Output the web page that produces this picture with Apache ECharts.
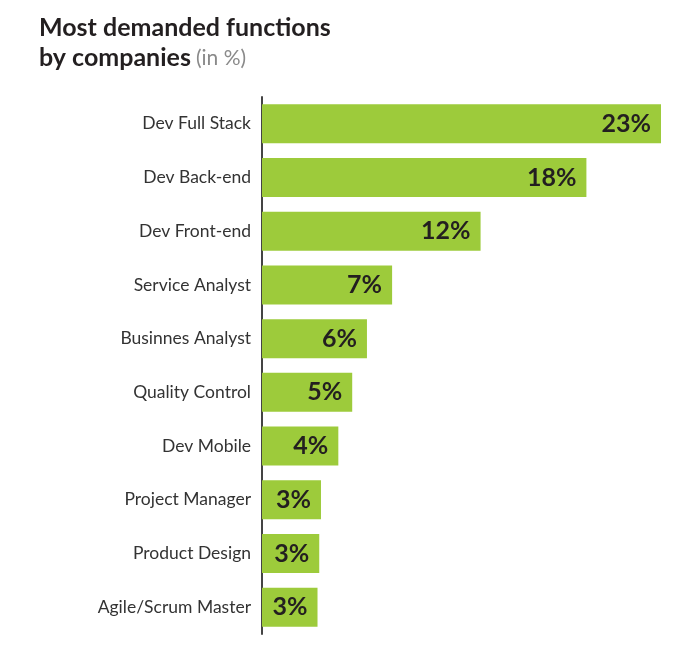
<!DOCTYPE html>
<html>
<head>
<meta charset="utf-8">
<script src="https://cdn.jsdelivr.net/npm/echarts@6/dist/echarts.min.js"></script>
<style>html,body{margin:0;padding:0;background:#fff}#c{width:700px;height:657px}</style>
</head>
<body>
<div id="c"></div>
<script>
const categories = ["Dev Full Stack","Dev Back-end","Dev Front-end","Service Analyst","Businnes Analyst","Quality Control","Dev Mobile","Project Manager","Product Design","Agile/Scrum Master"];
const values = [23, 18.7, 12.6, 7.5, 6.05, 5.2, 4.4, 3.4, 3.3, 3.2];
const valueLabels = ["23%","18%","12%","7%","6%","5%","4%","3%","3%","3%"];

const chart = echarts.init(document.getElementById('c'));
chart.setOption({
  animation: false,
  title: {
    text: '{a|Most demanded functions}\n{a|by companies} {b|(in %)}',
    left: 34, top: 8,
    textStyle: {
      rich: {
        a: {fontFamily: 'Lato', fontWeight: 'bold', fontSize: 25, color: '#231f20', lineHeight: 30},
        b: {fontFamily: 'Lato', fontWeight: 'normal', fontSize: 21, color: '#8a8a8a', lineHeight: 30}
      }
    }
  },
  grid: {left: 262, right: 39, top: 97, bottom: 23, containLabel: false},
  xAxis: {type: 'value', min: 0, max: 23, show: false},
  yAxis: {
    type: 'category', data: categories, inverse: true,
    axisLine: {show: true, lineStyle: {color: '#444', width: 2}},
    axisTick: {show: false},
    axisLabel: {fontFamily: 'Lato', fontSize: 17.5, color: '#333', margin: 11, padding: [0, 0, 5, 0]}
  },
  series: [{
    type: 'bar', data: values, barWidth: 39,
    itemStyle: {color: '#9dcb3b'},
    label: {
      show: true, position: 'insideRight', distance: 10,
      formatter: p => valueLabels[p.dataIndex],
      fontFamily: 'Lato', fontWeight: 'bold', fontSize: 25, color: '#231f20'
    }
  }]
});
</script>
</body>
</html>
